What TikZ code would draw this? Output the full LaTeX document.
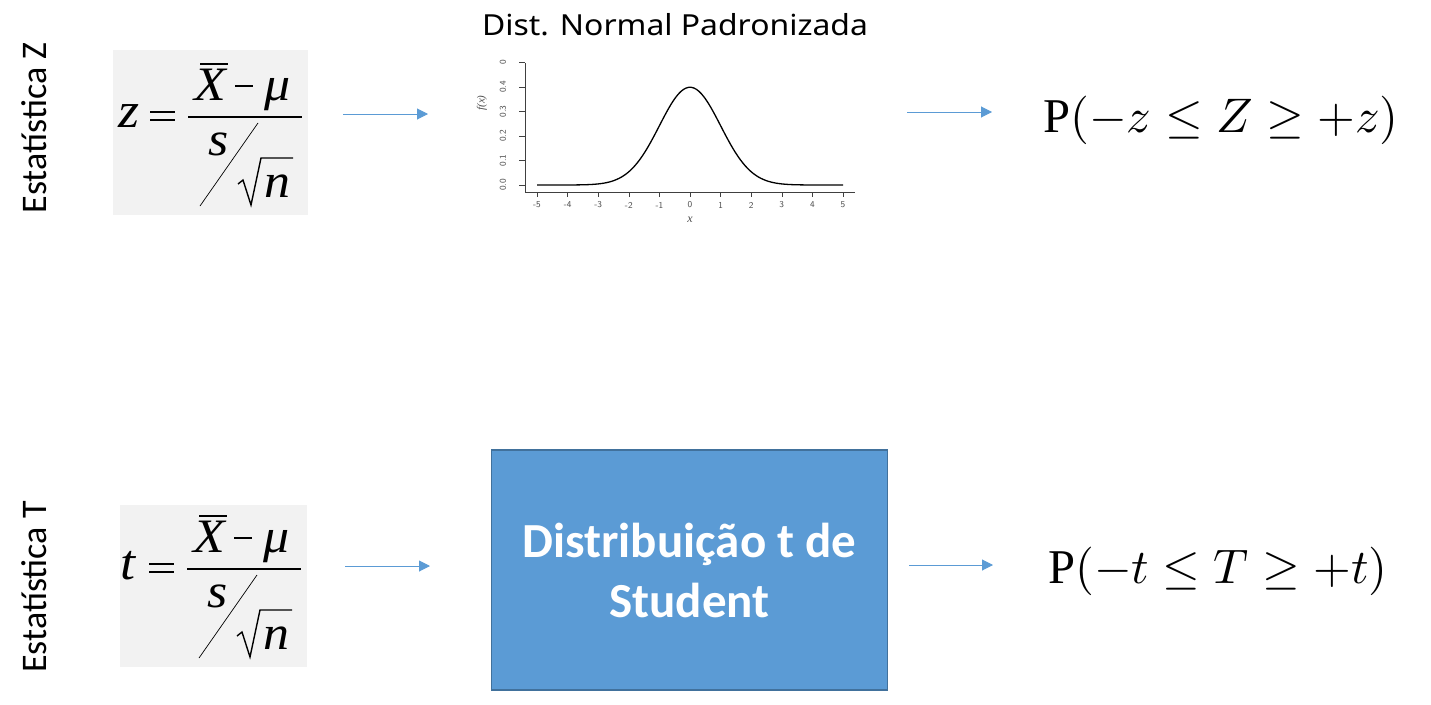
\documentclass[tikz,border=0pt]{standalone}
\usepackage{fontspec}
\setmainfont{Carlito}
\newfontfamily\timesf{Liberation Serif}
\newfontfamily\titlef[FakeStretch=1.1]{Noto Sans}
\usetikzlibrary{arrows.meta}
\newcommand{\widesym}[1]{\scalebox{1.08}[1]{#1}}
\newcommand{\uprP}{\mbox{\fontsize{10}{10}\selectfont\timesf P}}
\definecolor{arrowblue}{HTML}{5B9BD5}
\definecolor{boxblue}{HTML}{5B9BD5}
\definecolor{boxedge}{HTML}{41719C}
\definecolor{formulabg}{HTML}{F2F2F2}
\tikzset{
  flow/.style={draw=arrowblue, line width=1pt, -{Triangle[length=11pt,width=11pt]}},
  fbox/.style={fill=formulabg, draw=none},
  fsym/.style={inner sep=0pt, anchor=base, font=\fontsize{48}{48}\selectfont\timesf\itshape},
  fbig/.style={inner sep=0pt, anchor=base, font=\fontsize{50}{50}\selectfont\timesf\itshape},
  rlabel/.style={rotate=90, anchor=base, inner sep=0pt, font=\fontsize{36}{36}\selectfont},
  prob/.style={anchor=base, inner sep=0pt},
  bluebox/.style={fill=boxblue, draw=boxedge, line width=1.5pt, text=white, align=center,
    font=\fontsize{49}{60}\selectfont\bfseries, minimum width=396pt, minimum height=240pt, inner sep=0pt},
  tick/.style={draw=black!75, line width=0.6pt},
  ticklab/.style={inner sep=0pt, font=\fontsize{9}{9}\selectfont\sffamily, text=black!70},
  pics/frm/.style={code={
    \node[fbig] (-v) at (-59,10) {\widesym{#1}};
    \draw[line width=1.6pt] (-38,-5) -- (-13,-5) (-38,3) -- (-13,3);
    \draw[line width=1.6pt] (0,0) coordinate (-bl) -- (114,0) coordinate (-br);
    \node[fsym] (-X) at (22,-17) {\widesym{X}};
    \draw[line width=1.6pt] (12,-53) -- (40,-53);
    \draw[line width=1.6pt] (47,-31) -- (65,-31);
    \node[fsym] (-mu) at (90,-17) {\widesym{μ}};
    \node[fsym] (-s) at (31,38) {\widesym{s}};
    \draw[line width=0.7pt] (12,89) -- (70,6);
    \draw[line width=1.4pt, line join=miter] (50,67) -- (55,63) -- (63,88) -- (73,41) -- (105,41);
    \node[fsym] (-n) at (89,80) {\widesym{n}};
  }}
}
\begin{document}
\begin{tikzpicture}[x=1pt,y=-1pt]
\useasboundingbox (0,0) rectangle (1431,704);

% ---------- row Z ----------
\node[rlabel] (labZ) at (46,128) {Estatística Z};
\draw[fbox] (113,50) rectangle (308,215);
\pic (fz) at (188,117) {frm=z};

\coordinate (a1s) at (343,114);
\coordinate (a1e) at (428,114);
\draw[flow] (a1s) -- (a1e);

% normal plot
\node[anchor=base, inner sep=0pt, font=\fontsize{29}{29}\selectfont\titlef] (title) at (675,35) {Dist. Normal Padronizada};
\draw[tick] (525,63) -- (525,192) -- (855,192);
\foreach \v/\l in {0/0.0,1/0.1,2/0.2,3/0.3,4/0.4,5/0}{
  \draw[tick] (525,{185-24.5*\v}) -- (519,{185-24.5*\v});
  \node[ticklab, rotate=90] at (503,{185-24.5*\v}) {\l};
}
\foreach \k in {-5,...,5}{
  \draw[tick] ({537+30.6*(\k+5)},192) -- ({537+30.6*(\k+5)},197);
  \node[ticklab] at ({537+30.6*(\k+5)},205) {\k};
}
\node[inner sep=0pt, font=\fontsize{12}{12}\selectfont\timesf\itshape, text=black!70] (xlab) at (690,220) {x};
\node[inner sep=0pt, rotate=90, font=\fontsize{11}{11}\selectfont\timesf\itshape, text=black!70] (ylab) at (482,103) {f(x)};
\draw[line width=1.3pt, variable=\t, domain=-5:5, samples=120, smooth]
  plot ({537+30.6*(\t+5)}, {185-97.74*exp(-(\t)^2/2)});

\coordinate (a2s) at (907,112);
\coordinate (a2e) at (992,112);
\draw[flow] (a2s) -- (a2e);

\node[prob] (pz) at (1221,132) {\scalebox{4.85}{$\uprP(-z \leq Z \geq +z)$}};

% ---------- row T ----------
\node[rlabel] (labT) at (46,587) {Estatística T};
\draw[fbox] (120,505) rectangle (307,667);
\pic (ft) at (187,569) {frm=t};

\coordinate (a3s) at (345,566);
\coordinate (a3e) at (430,566);
\draw[flow] (a3s) -- (a3e);

\node[bluebox] (tbox) at (689.5,570) {Distribuição t de\\Student};

\coordinate (a4s) at (909,565);
\coordinate (a4e) at (993,565);
\draw[flow] (a4s) -- (a4e);

\node[prob] (pt) at (1218,583) {\scalebox{4.85}{$\uprP(-t \leq T \geq +t)$}};
\end{tikzpicture}
\end{document}
